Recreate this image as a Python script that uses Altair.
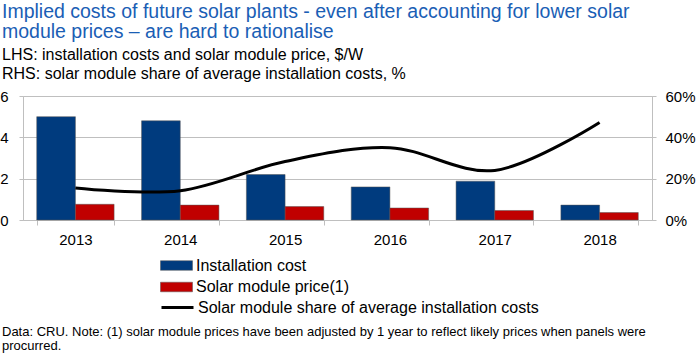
import altair as alt
import pandas as pd

years = ["2013", "2014", "2015", "2016", "2017", "2018"]
installation_cost = [5.0, 4.8, 2.2, 1.6, 1.88, 0.72]
module_price = [0.76, 0.72, 0.65, 0.58, 0.46, 0.36]
module_share = [0.155, 0.142, 0.283, 0.35, 0.24, 0.472]

bar_series = ["Installation cost", "Solar module price(1)"]
line_series = ["Solar module share of average installation costs"]

title_text = ("Implied costs of future solar plants - even after accounting for lower solar\n"
              "module prices \u2013 are hard to rationalise")
subtitle_text = ("LHS: installation costs and solar module price, $/W\n"
                 "RHS: solar module share of average installation costs, %")
footnote = ("Data: CRU. Note: (1) solar module prices have been adjusted by 1 year to reflect likely prices when panels were\n"
            "procurred.")

FONT = "Liberation Sans"
BLUE = "#003B7E"
RED = "#C00000"
GRID = "#BFBFBF"

bars_df = pd.DataFrame({
    "year": years * 2,
    "series": [bar_series[0]] * len(years) + [bar_series[1]] * len(years),
    "value": installation_cost + module_price,
})
line_df = pd.DataFrame({"year": years, "share": module_share, "series": line_series * len(years)})

x_enc = alt.X("year:N", sort=years, title=None,
              scale=alt.Scale(paddingInner=0.262, paddingOuter=0.131),
              axis=alt.Axis(labelAngle=0, labelFontSize=15, labelFont=FONT, labelColor="#000",
                            domainColor=GRID, tickColor=GRID, tickSize=5, tickBand="extent",
                            labelPadding=7, grid=False))

bars = alt.Chart(bars_df).mark_bar(stroke="#555555", strokeWidth=0.5).encode(
    x=x_enc,
    xOffset=alt.XOffset("series:N", sort=bar_series, scale=alt.Scale(paddingInner=0, paddingOuter=0)),
    y=alt.Y("value:Q", title=None, scale=alt.Scale(domain=[0, 6]),
            axis=alt.Axis(values=[0, 2, 4, 6], labelFontSize=15, labelFont=FONT, labelColor="#000",
                          grid=True, gridColor=GRID, domainColor=GRID, tickColor=GRID,
                          tickSize=4, labelPadding=11)),
    fill=alt.Fill("series:N", sort=bar_series,
                  scale=alt.Scale(domain=bar_series, range=[BLUE, RED]),
                  legend=alt.Legend(title=None, orient="none", legendX=145, legendY=161,
                                    symbolType="M-2,-0.6H2V0.6H-2Z", symbolSize=256,
                                    symbolStrokeColor="#555555", symbolStrokeWidth=0.5,
                                    labelOffset=11, labelFontSize=16, labelFont=FONT,
                                    labelColor="#000", labelLimit=500, rowPadding=4.5,
                                    padding=0)),
)

line = alt.Chart(line_df).mark_line(strokeWidth=3, interpolate="cardinal").encode(
    x=alt.X("year:N", sort=years),
    y=alt.Y("share:Q", title=None, scale=alt.Scale(domain=[0, 0.6]),
            axis=alt.Axis(orient="right", values=[0, 0.2, 0.4, 0.6], format=".0%",
                          labelFontSize=15, labelFont=FONT, labelColor="#000", grid=False,
                          domainColor=GRID, tickColor=GRID, tickSize=4, labelPadding=9)),
    stroke=alt.Stroke("series:N", scale=alt.Scale(domain=line_series, range=["#000000"]),
                      legend=alt.Legend(title=None, orient="none", legendX=145, legendY=202,
                                        symbolType="M-2,0H2", symbolSize=256,
                                        symbolStrokeWidth=3, labelOffset=11,
                                        labelFontSize=16, labelFont=FONT, labelColor="#000",
                                        labelLimit=500, padding=0)),
)

title = alt.Chart(pd.DataFrame({"t": [title_text]})).mark_text(
    align="left", baseline="alphabetic", lineBreak="\n", fontSize=19.5, font=FONT,
    color="#1A5EB5", lineHeight=20.5).encode(text="t:N", x=alt.value(-21), y=alt.value(-78.5))

subtitle = alt.Chart(pd.DataFrame({"t": [subtitle_text]})).mark_text(
    align="left", baseline="alphabetic", lineBreak="\n", fontSize=16, font=FONT,
    color="#000", lineHeight=19).encode(text="t:N", x=alt.value(-21), y=alt.value(-36))

note = alt.Chart(pd.DataFrame({"t": [footnote]})).mark_text(
    align="left", baseline="alphabetic", lineBreak="\n", fontSize=13, font=FONT,
    color="#000", lineHeight=14).encode(text="t:N", x=alt.value(-21), y=alt.value(240))

chart = alt.layer(bars, line, title, subtitle, note).resolve_scale(
    y="independent", fill="independent", stroke="independent"
).properties(
    width=629, height=124,
    padding={"left": 23, "top": 96, "right": 46, "bottom": 133},
    autosize=alt.AutoSizeParams(type="none"),
).configure_view(stroke=None).configure(background="white")

chart.save("out.html", embed_options={"renderer": "svg", "actions": False})
